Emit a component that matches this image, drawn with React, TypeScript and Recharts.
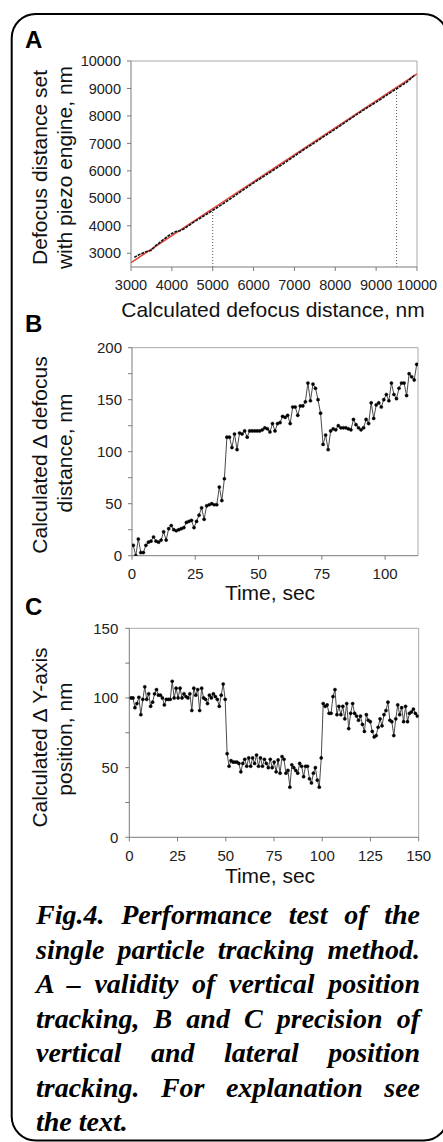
import React from 'react';
import { LineChart, Line, XAxis, YAxis, ReferenceLine } from 'recharts';

const SANS = '"Liberation Sans", Arial, Helvetica, sans-serif';
const SERIF = '"Liberation Serif", "Times New Roman", serif';

// ---------- Panel A ----------
const A_CALC_X = [3080, 3200, 3350, 3500, 3600, 3750, 3900, 4000, 4100, 4200, 4300, 4500, 4750, 5000, 5250, 5500, 5750, 6000, 6250, 6500, 6750, 7000, 7250, 7500, 7750, 8000, 8250, 8500, 8750, 9000, 9250, 9500, 9750, 9950];
const A_SET_Y = [2850, 2950, 3050, 3110, 3270, 3450, 3620, 3720, 3790, 3820, 3890, 4100, 4330, 4560, 4800, 5050, 5310, 5560, 5800, 6040, 6280, 6540, 6790, 7030, 7280, 7520, 7770, 8030, 8270, 8500, 8750, 8990, 9230, 9500];
const A_FIT_X = [3000, 10000];
const A_FIT_Y = [2660, 9530];
const A_GUIDE1_X = [5000, 5000];
const A_GUIDE1_Y = [2500, 4560];
const A_GUIDE2_X = [9500, 9500];
const A_GUIDE2_Y = [2500, 9000];
const A_X_TICKS = [3000, 4000, 5000, 6000, 7000, 8000, 9000, 10000];
const A_Y_TICKS = [3000, 4000, 5000, 6000, 7000, 8000, 9000, 10000];

// ---------- Panel B ----------
const B_VALUES = [10, 0, 16, 3, 3, 10, 13, 14, 18, 14, 13, 15, 23, 15, 26, 29, 25, 24, 25, 26, 27, 32, 33, 34, 27, 33, 39, 46, 35, 48, 49, 50, 49, 49, 66, 53, 74, 114, 114, 104, 117, 102, 118, 117, 120, 114, 120, 120, 120, 120, 120, 121, 123, 122, 119, 127, 120, 127, 128, 134, 133, 135, 127, 143, 143, 135, 144, 144, 148, 166, 149, 165, 161, 150, 137, 107, 116, 102, 120, 122, 121, 125, 123, 123, 123, 122, 121, 131, 126, 123, 121, 123, 131, 127, 147, 132, 145, 147, 143, 150, 155, 149, 166, 155, 151, 161, 166, 166, 154, 175, 172, 169, 184];
const B_TIME_START = 0.5;
const B_TIME_STEP = 1;
const B_X_TICKS = [0, 25, 50, 75, 100];
const B_Y_TICKS = [0, 25, 50, 75, 100, 125, 150, 175, 200];

// ---------- Panel C ----------
const C_VALUES = [100, 100, 93, 96, 100.5, 88, 99, 108, 99, 103, 94, 97, 103, 106, 102, 102, 100, 95, 99, 99, 99, 112, 100, 107, 100, 107, 100, 103, 101, 100, 103, 91, 107, 102, 106, 91, 107, 100, 99, 96, 102, 100, 103, 101, 99, 94, 102, 110, 99,
  60, 51, 55, 54, 54, 54, 53, 47, 53, 56, 51, 57, 51, 57, 53, 59, 51, 57, 51, 56, 53, 50, 56, 50, 54, 47, 55.5, 46, 58, 56, 46, 48, 36, 52, 50, 48, 46, 53, 51, 43.5, 51, 51, 42, 39, 46, 50, 41, 36, 57,
  96, 94, 95, 89, 89, 101, 106, 88, 94, 88, 94, 85, 96, 78, 89, 96, 89, 87, 84, 87, 81, 76, 88, 84, 83, 76, 72, 73, 79, 85, 80, 88, 91, 97, 84, 83, 73, 85, 95, 88, 93, 83, 94, 83, 89, 90, 92, 89, 87];
const C_TIME_START = 0.9;
const C_TIME_STEP = 1.0164;
const C_X_TICKS = [0, 25, 50, 75, 100, 125, 150];
const C_Y_TICKS = [0, 25, 50, 75, 100, 125, 150];

const zip = (xs: number[], ys: number[]) => xs.map((x, i) => ({ x, y: ys[i] }));
const aMeasured = zip(A_CALC_X, A_SET_Y);
const aFit = zip(A_FIT_X, A_FIT_Y);
const aGuide1 = zip(A_GUIDE1_X, A_GUIDE1_Y);
const aGuide2 = zip(A_GUIDE2_X, A_GUIDE2_Y);
const bData = B_VALUES.map((v, i) => ({ t: B_TIME_START + i * B_TIME_STEP, v }));
const cData = C_VALUES.map((v, i) => ({ t: C_TIME_START + i * C_TIME_STEP, v }));

const AXIS = '#7a7a7a';
const BOX = '#a8a8a8';
const TICK_FILL = '#222';

const MinorYTick = (fontSize: number, every: number) => (props: any) => {
  const { x, y, payload } = props;
  if (payload.value % every !== 0) return <g />;
  return (
    <text x={x} y={y} dy="0.355em" textAnchor="end" fill={TICK_FILL} fontSize={fontSize} fontFamily={SANS}>
      {payload.value}
    </text>
  );
};

const dotStyle = { r: 1.6, fill: '#000', stroke: '#000', strokeWidth: 0.4 };

const ChartA = () => (
  <LineChart width={443} height={300} margin={{ top: 61, right: 26, bottom: 13, left: 71 }}>
    <XAxis type="number" dataKey="x" domain={[3000, 10000]} ticks={A_X_TICKS} interval={0} allowDataOverflow
      height={20} tickSize={4} tickMargin={9} axisLine={{ stroke: AXIS }} tickLine={{ stroke: AXIS }}
      tick={{ fontSize: 14.5, fill: TICK_FILL, fontFamily: SANS }} />
    <YAxis type="number" dataKey="y" domain={[2500, 10000]} ticks={A_Y_TICKS} interval={0} allowDataOverflow
      width={60} tickSize={4} tickMargin={6} axisLine={{ stroke: AXIS }} tickLine={{ stroke: AXIS }}
      tick={{ fontSize: 14.5, fill: TICK_FILL, fontFamily: SANS }} />
    <ReferenceLine y={10000} stroke={BOX} />
    <ReferenceLine x={10000} stroke={BOX} />
    <Line data={aGuide1} dataKey="y" stroke="#555" strokeWidth={1} strokeDasharray="1 2" dot={false} isAnimationActive={false} />
    <Line data={aGuide2} dataKey="y" stroke="#555" strokeWidth={1} strokeDasharray="1 2" dot={false} isAnimationActive={false} />
    <Line data={aFit} dataKey="y" stroke="#e0453c" strokeWidth={1.6} dot={false} isAnimationActive={false} />
    <Line data={aMeasured} dataKey="y" stroke="#111" strokeWidth={1.6} strokeDasharray="3 1" dot={false} isAnimationActive={false} />
  </LineChart>
);

const ChartB = () => (
  <LineChart width={443} height={300} data={bData} margin={{ top: 47.7, right: 25, bottom: 24.3, left: 72 }}>
    <XAxis type="number" dataKey="t" domain={[0, 113]} ticks={B_X_TICKS} interval={0} allowDataOverflow
      height={20} tickSize={4} tickMargin={8.6} axisLine={{ stroke: AXIS }} tickLine={{ stroke: AXIS }}
      tick={{ fontSize: 15, fill: TICK_FILL, fontFamily: SANS }} />
    <YAxis type="number" domain={[0, 200]} ticks={B_Y_TICKS} interval={0} allowDataOverflow
      width={60} tickSize={4} tickMargin={6} axisLine={{ stroke: AXIS }} tickLine={{ stroke: AXIS }}
      tick={MinorYTick(15, 50)} />
    <ReferenceLine y={200} stroke={BOX} />
    <ReferenceLine x={113} stroke={BOX} />
    <Line dataKey="v" stroke="#4a4a4a" strokeWidth={1} dot={dotStyle} isAnimationActive={false} />
  </LineChart>
);

const ChartC = () => (
  <LineChart width={443} height={290} data={cData} margin={{ top: 28.3, right: 24.3, bottom: 32.7, left: 69.3 }}>
    <XAxis type="number" dataKey="t" domain={[0, 150]} ticks={C_X_TICKS} interval={0} allowDataOverflow
      height={20} tickSize={4} tickMargin={9.4} axisLine={{ stroke: AXIS }} tickLine={{ stroke: AXIS }}
      tick={{ fontSize: 15, fill: TICK_FILL, fontFamily: SANS }} />
    <YAxis type="number" domain={[0, 150]} ticks={C_Y_TICKS} interval={0} allowDataOverflow
      width={60} tickSize={4} tickMargin={7} axisLine={{ stroke: AXIS }} tickLine={{ stroke: AXIS }}
      tick={MinorYTick(15, 50)} />
    <ReferenceLine y={150} stroke={BOX} />
    <ReferenceLine x={150} stroke={BOX} />
    <Line dataKey="v" stroke="#4a4a4a" strokeWidth={1} dot={dotStyle} isAnimationActive={false} />
  </LineChart>
);

const RotTitle = ({ x, y, children }: { x: number; y: number; children: React.ReactNode }) => (
  <text x={x} y={y} transform={`rotate(-90 ${x} ${y})`} textAnchor="middle" fontSize={21} fontFamily={SANS} fill="#111">
    {children}
  </text>
);

const CAPTION_LINES = [
  'Fig.4. Performance test of the',
  'single particle tracking method.',
  'A \u2013 validity of vertical position',
  'tracking, B and C precision of',
  'vertical and lateral position',
  'tracking. For explanation see',
  'the text.',
];

export default function App() {
  return (
    <div style={{ position: 'absolute', left: 0, top: 0, width: 443, height: 1142, background: '#fff', overflow: 'hidden' }}>
      <svg width={443} height={1142} style={{ position: 'absolute', left: 0, top: 0 }}>
        <rect x={11.7} y={14} width={436} height={1126.5} rx={24} ry={24} fill="none" stroke="#000" strokeWidth={2} />
        <text x={25} y={48} fontSize={24} fontWeight="bold" fontFamily={SANS} fill="#000">A</text>
        <text x={25} y={332} fontSize={24} fontWeight="bold" fontFamily={SANS} fill="#000">B</text>
        <text x={25} y={615} fontSize={24} fontWeight="bold" fontFamily={SANS} fill="#000">C</text>

        <RotTitle x={47} y={167.5}>Defocus distance set</RotTitle>
        <RotTitle x={72} y={167.5}>with piezo engine, nm</RotTitle>
        <text x={273} y={316.7} textAnchor="middle" fontSize={21} fontFamily={SANS} fill="#111">Calculated defocus distance, nm</text>

        <RotTitle x={46.7} y={455}>Calculated Δ defocus</RotTitle>
        <RotTitle x={71.5} y={453}>distance, nm</RotTitle>
        <text x={270} y={600} textAnchor="middle" fontSize={21} fontFamily={SANS} fill="#111">Time, sec</text>

        <RotTitle x={46.7} y={737.5}>Calculated Δ Y-axis</RotTitle>
        <RotTitle x={72} y={739}>position, nm</RotTitle>
        <text x={270} y={883} textAnchor="middle" fontSize={21} fontFamily={SANS} fill="#111">Time, sec</text>
      </svg>

      <div style={{ position: 'absolute', left: 0, top: 0 }}><ChartA /></div>
      <div style={{ position: 'absolute', left: 0, top: 300 }}><ChartB /></div>
      <div style={{ position: 'absolute', left: 0, top: 600 }}><ChartC /></div>

      <div style={{ position: 'absolute', left: 36, top: 898.3, width: 384, fontFamily: SERIF, fontWeight: 'bold', fontStyle: 'italic', fontSize: 28, lineHeight: '34.5px', color: '#000' }}>
        {CAPTION_LINES.map((line, i) => (
          <div key={i} style={{ textAlign: 'justify', textAlignLast: i === CAPTION_LINES.length - 1 ? 'left' : 'justify', whiteSpace: 'nowrap' }}>
            {line}
          </div>
        ))}
      </div>
    </div>
  );
}
